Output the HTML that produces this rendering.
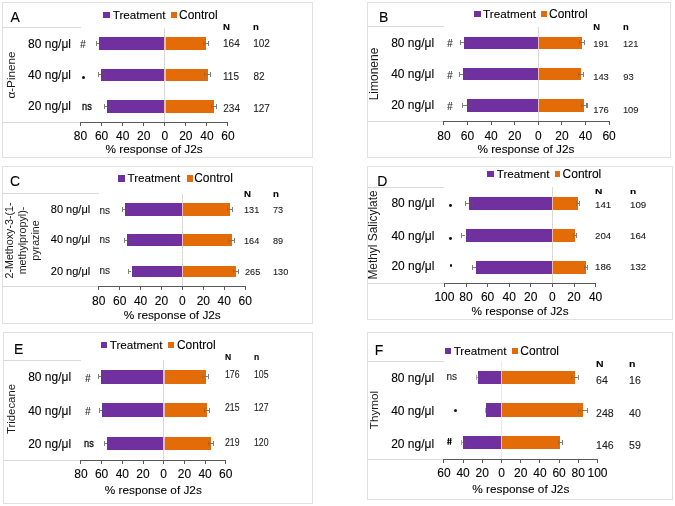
<!DOCTYPE html>
<html><head><meta charset="utf-8"><style>
html,body{margin:0;padding:0;background:#fff;}
body{width:675px;height:506px;position:relative;overflow:hidden;font-family:"Liberation Sans", sans-serif;}
#w{position:absolute;left:0;top:0;width:675px;height:506px;filter:blur(0.3px);}
#w>div{position:absolute;}
.r{position:absolute;white-space:nowrap;}
.t{white-space:nowrap;filter:grayscale(1);-webkit-text-stroke:0.1px currentColor;}
</style></head><body>
<div id="w">
<div style="left:2.00px;top:2.00px;width:311.00px;height:156.00px;border:1px solid #e0e0e0;box-sizing:border-box"></div>
<div class="t" style="left:10.60px;top:10.00px;font-size:14px;line-height:14px;color:#000;font-weight:normal;">A</div>
<div style="left:2.00px;top:27.20px;width:78.50px;height:1.00px;background:#d9d9d9"></div>
<div style="left:2.00px;top:121.70px;width:78.50px;height:1.00px;background:#d9d9d9"></div>
<div style="left:164.40px;top:27.70px;width:1.00px;height:94.50px;background:#d9d9d9"></div>
<div style="left:99.00px;top:37.20px;width:64.90px;height:12.40px;background:#7030a0"></div>
<div style="left:163.90px;top:37.20px;width:1.80px;height:12.40px;background:#e4bcb0"></div>
<div style="left:165.70px;top:37.20px;width:40.00px;height:12.40px;background:#e36c09"></div>
<div style="left:96.20px;top:42.90px;width:2.80px;height:1.00px;background:#7f7f7f"></div>
<div style="left:95.60px;top:40.90px;width:1.20px;height:5.00px;background:#7f7f7f"></div>
<div style="left:99.00px;top:42.90px;width:2.80px;height:1.00px;background:rgba(90,90,90,0.35)"></div>
<div style="left:101.30px;top:40.90px;width:1.00px;height:5.00px;background:rgba(90,90,90,0.35)"></div>
<div style="left:205.70px;top:42.90px;width:2.70px;height:1.00px;background:#7f7f7f"></div>
<div style="left:207.80px;top:40.90px;width:1.20px;height:5.00px;background:#7f7f7f"></div>
<div style="left:203.00px;top:42.90px;width:2.70px;height:1.00px;background:rgba(90,90,90,0.35)"></div>
<div style="left:202.50px;top:40.90px;width:1.00px;height:5.00px;background:rgba(90,90,90,0.35)"></div>
<div style="left:101.40px;top:68.50px;width:62.50px;height:12.80px;background:#7030a0"></div>
<div style="left:163.90px;top:68.50px;width:1.80px;height:12.80px;background:#e4bcb0"></div>
<div style="left:165.70px;top:68.50px;width:41.90px;height:12.80px;background:#e36c09"></div>
<div style="left:98.60px;top:74.40px;width:2.80px;height:1.00px;background:#7f7f7f"></div>
<div style="left:98.00px;top:72.40px;width:1.20px;height:5.00px;background:#7f7f7f"></div>
<div style="left:101.40px;top:74.40px;width:2.80px;height:1.00px;background:rgba(90,90,90,0.35)"></div>
<div style="left:103.70px;top:72.40px;width:1.00px;height:5.00px;background:rgba(90,90,90,0.35)"></div>
<div style="left:207.60px;top:74.40px;width:2.80px;height:1.00px;background:#7f7f7f"></div>
<div style="left:209.80px;top:72.40px;width:1.20px;height:5.00px;background:#7f7f7f"></div>
<div style="left:204.80px;top:74.40px;width:2.80px;height:1.00px;background:rgba(90,90,90,0.35)"></div>
<div style="left:204.30px;top:72.40px;width:1.00px;height:5.00px;background:rgba(90,90,90,0.35)"></div>
<div style="left:107.40px;top:100.20px;width:56.50px;height:12.40px;background:#7030a0"></div>
<div style="left:163.90px;top:100.20px;width:1.80px;height:12.40px;background:#e4bcb0"></div>
<div style="left:165.70px;top:100.20px;width:48.10px;height:12.40px;background:#e36c09"></div>
<div style="left:104.60px;top:105.90px;width:2.80px;height:1.00px;background:#7f7f7f"></div>
<div style="left:104.00px;top:103.90px;width:1.20px;height:5.00px;background:#7f7f7f"></div>
<div style="left:107.40px;top:105.90px;width:2.80px;height:1.00px;background:rgba(90,90,90,0.35)"></div>
<div style="left:109.70px;top:103.90px;width:1.00px;height:5.00px;background:rgba(90,90,90,0.35)"></div>
<div style="left:213.80px;top:105.90px;width:2.80px;height:1.00px;background:#7f7f7f"></div>
<div style="left:216.00px;top:103.90px;width:1.20px;height:5.00px;background:#7f7f7f"></div>
<div style="left:211.00px;top:105.90px;width:2.80px;height:1.00px;background:rgba(90,90,90,0.35)"></div>
<div style="left:210.50px;top:103.90px;width:1.00px;height:5.00px;background:rgba(90,90,90,0.35)"></div>
<div style="left:80.00px;top:121.70px;width:148.49px;height:1.00px;background:#595959"></div>
<div style="left:80.00px;top:122.20px;width:1.00px;height:3.50px;background:#595959"></div>
<div class="t" style="left:-119.50px;width:400px;text-align:center;top:130.00px;font-size:12px;line-height:12px;color:#000;font-weight:normal;">80</div>
<div style="left:101.07px;top:122.20px;width:1.00px;height:3.50px;background:#595959"></div>
<div class="t" style="left:-98.43px;width:400px;text-align:center;top:130.00px;font-size:12px;line-height:12px;color:#000;font-weight:normal;">60</div>
<div style="left:122.14px;top:122.20px;width:1.00px;height:3.50px;background:#595959"></div>
<div class="t" style="left:-77.36px;width:400px;text-align:center;top:130.00px;font-size:12px;line-height:12px;color:#000;font-weight:normal;">40</div>
<div style="left:143.21px;top:122.20px;width:1.00px;height:3.50px;background:#595959"></div>
<div class="t" style="left:-56.29px;width:400px;text-align:center;top:130.00px;font-size:12px;line-height:12px;color:#000;font-weight:normal;">20</div>
<div style="left:164.28px;top:122.20px;width:1.00px;height:3.50px;background:#595959"></div>
<div class="t" style="left:-35.22px;width:400px;text-align:center;top:130.00px;font-size:12px;line-height:12px;color:#000;font-weight:normal;">0</div>
<div style="left:185.35px;top:122.20px;width:1.00px;height:3.50px;background:#595959"></div>
<div class="t" style="left:-14.15px;width:400px;text-align:center;top:130.00px;font-size:12px;line-height:12px;color:#000;font-weight:normal;">20</div>
<div style="left:206.42px;top:122.20px;width:1.00px;height:3.50px;background:#595959"></div>
<div class="t" style="left:6.92px;width:400px;text-align:center;top:130.00px;font-size:12px;line-height:12px;color:#000;font-weight:normal;">40</div>
<div style="left:227.49px;top:122.20px;width:1.00px;height:3.50px;background:#595959"></div>
<div class="t" style="left:27.99px;width:400px;text-align:center;top:130.00px;font-size:12px;line-height:12px;color:#000;font-weight:normal;">60</div>
<div class="t" style="left:105.59px;top:144.10px;font-size:11.8px;line-height:11.8px;color:#000;font-weight:normal;">% response of J2s</div>
<div style="left:103.20px;top:11.80px;width:6.40px;height:6.10px;background:#7030a0"></div>
<div class="t" style="left:112.77px;top:8.65px;font-size:11.7px;line-height:11.7px;color:#000;font-weight:normal;">Treatment</div>
<div style="left:171.10px;top:11.80px;width:6.30px;height:6.10px;background:#e36c09"></div>
<div class="t" style="left:179.00px;top:9.00px;font-size:12px;line-height:12px;color:#000;font-weight:normal;">Control</div>
<div class="t" style="right:603.98px;text-align:right;top:38.00px;font-size:12px;line-height:12px;color:#000;font-weight:normal;">80 ng/μl</div>
<div class="t" style="right:603.98px;text-align:right;top:69.00px;font-size:12px;line-height:12px;color:#000;font-weight:normal;">40 ng/μl</div>
<div class="t" style="right:603.98px;text-align:right;top:100.00px;font-size:12px;line-height:12px;color:#000;font-weight:normal;">20 ng/μl</div>
<div class="t" style="left:80.00px;top:39.10px;font-size:11.8px;line-height:11.8px;color:#262626;font-weight:normal;font-style:italic;transform:scaleX(0.84);transform-origin:0 0;">#</div>
<div style="left:82.20px;top:76.10px;width:3.20px;height:3.20px;border-radius:50%;background:#111"></div>
<div class="t" style="left:81.90px;top:100.75px;font-size:10.5px;line-height:10.5px;color:#111;font-weight:normal;transform:scaleX(0.88);transform-origin:0 0;-webkit-text-stroke:0.35px #111;">ns</div>
<div class="t" style="left:223.18px;top:22.55px;font-size:8.9px;line-height:8.9px;color:#000;font-weight:bold;transform:scaleX(1.08);transform-origin:0 0;">N</div>
<div class="t" style="left:253.38px;top:22.55px;font-size:8.9px;line-height:8.9px;color:#000;font-weight:bold;transform:scaleX(1.08);transform-origin:0 0;">n</div>
<div class="t" style="left:223.05px;top:38.50px;font-size:10px;line-height:10px;color:#222;font-weight:normal;">164</div>
<div class="t" style="left:253.25px;top:38.50px;font-size:10px;line-height:10px;color:#222;font-weight:normal;">102</div>
<div class="t" style="left:223.05px;top:71.50px;font-size:10px;line-height:10px;color:#222;font-weight:normal;">115</div>
<div class="t" style="left:253.55px;top:71.50px;font-size:10px;line-height:10px;color:#222;font-weight:normal;">82</div>
<div class="t" style="left:223.30px;top:103.50px;font-size:10px;line-height:10px;color:#222;font-weight:normal;">234</div>
<div class="t" style="left:253.25px;top:103.50px;font-size:10px;line-height:10px;color:#222;font-weight:normal;">127</div>
<div style="left:367.00px;top:2.00px;width:304.00px;height:156.00px;border:1px solid #e0e0e0;box-sizing:border-box"></div>
<div class="t" style="left:378.88px;top:10.00px;font-size:14px;line-height:14px;color:#000;font-weight:normal;">B</div>
<div style="left:367.00px;top:26.30px;width:76.90px;height:1.00px;background:#d9d9d9"></div>
<div style="left:367.00px;top:121.40px;width:76.90px;height:1.00px;background:#d9d9d9"></div>
<div style="left:538.00px;top:26.80px;width:1.00px;height:95.10px;background:#d9d9d9"></div>
<div style="left:464.00px;top:36.75px;width:73.80px;height:12.00px;background:#7030a0"></div>
<div style="left:537.80px;top:36.75px;width:1.20px;height:12.00px;background:#e4bcb0"></div>
<div style="left:539.00px;top:36.75px;width:43.00px;height:12.00px;background:#e36c09"></div>
<div style="left:460.40px;top:42.25px;width:3.60px;height:1.00px;background:#7f7f7f"></div>
<div style="left:459.80px;top:40.25px;width:1.20px;height:5.00px;background:#7f7f7f"></div>
<div style="left:464.00px;top:42.25px;width:3.60px;height:1.00px;background:rgba(90,90,90,0.35)"></div>
<div style="left:467.10px;top:40.25px;width:1.00px;height:5.00px;background:rgba(90,90,90,0.35)"></div>
<div style="left:582.00px;top:42.25px;width:2.80px;height:1.00px;background:#7f7f7f"></div>
<div style="left:584.20px;top:40.25px;width:1.20px;height:5.00px;background:#7f7f7f"></div>
<div style="left:579.20px;top:42.25px;width:2.80px;height:1.00px;background:rgba(90,90,90,0.35)"></div>
<div style="left:578.70px;top:40.25px;width:1.00px;height:5.00px;background:rgba(90,90,90,0.35)"></div>
<div style="left:463.10px;top:68.15px;width:74.70px;height:12.00px;background:#7030a0"></div>
<div style="left:537.80px;top:68.15px;width:1.20px;height:12.00px;background:#e4bcb0"></div>
<div style="left:539.00px;top:68.15px;width:41.90px;height:12.00px;background:#e36c09"></div>
<div style="left:459.60px;top:73.65px;width:3.50px;height:1.00px;background:#7f7f7f"></div>
<div style="left:459.00px;top:71.65px;width:1.20px;height:5.00px;background:#7f7f7f"></div>
<div style="left:463.10px;top:73.65px;width:3.50px;height:1.00px;background:rgba(90,90,90,0.35)"></div>
<div style="left:466.10px;top:71.65px;width:1.00px;height:5.00px;background:rgba(90,90,90,0.35)"></div>
<div style="left:580.90px;top:73.65px;width:2.80px;height:1.00px;background:#7f7f7f"></div>
<div style="left:583.10px;top:71.65px;width:1.20px;height:5.00px;background:#7f7f7f"></div>
<div style="left:578.10px;top:73.65px;width:2.80px;height:1.00px;background:rgba(90,90,90,0.35)"></div>
<div style="left:577.60px;top:71.65px;width:1.00px;height:5.00px;background:rgba(90,90,90,0.35)"></div>
<div style="left:466.70px;top:99.35px;width:71.10px;height:12.40px;background:#7030a0"></div>
<div style="left:537.80px;top:99.35px;width:1.20px;height:12.40px;background:#e4bcb0"></div>
<div style="left:539.00px;top:99.35px;width:45.20px;height:12.40px;background:#e36c09"></div>
<div style="left:462.80px;top:105.05px;width:3.90px;height:1.00px;background:#7f7f7f"></div>
<div style="left:462.20px;top:103.05px;width:1.20px;height:5.00px;background:#7f7f7f"></div>
<div style="left:466.70px;top:105.05px;width:3.90px;height:1.00px;background:rgba(90,90,90,0.35)"></div>
<div style="left:470.10px;top:103.05px;width:1.00px;height:5.00px;background:rgba(90,90,90,0.35)"></div>
<div style="left:584.20px;top:105.05px;width:2.80px;height:1.00px;background:#7f7f7f"></div>
<div style="left:586.40px;top:103.05px;width:1.20px;height:5.00px;background:#7f7f7f"></div>
<div style="left:581.40px;top:105.05px;width:2.80px;height:1.00px;background:rgba(90,90,90,0.35)"></div>
<div style="left:580.90px;top:103.05px;width:1.00px;height:5.00px;background:rgba(90,90,90,0.35)"></div>
<div style="left:443.40px;top:121.40px;width:166.20px;height:1.00px;background:#595959"></div>
<div style="left:443.40px;top:121.90px;width:1.00px;height:3.50px;background:#595959"></div>
<div class="t" style="left:243.90px;width:400px;text-align:center;top:130.00px;font-size:12px;line-height:12px;color:#000;font-weight:normal;">80</div>
<div style="left:467.00px;top:121.90px;width:1.00px;height:3.50px;background:#595959"></div>
<div class="t" style="left:267.50px;width:400px;text-align:center;top:130.00px;font-size:12px;line-height:12px;color:#000;font-weight:normal;">60</div>
<div style="left:490.60px;top:121.90px;width:1.00px;height:3.50px;background:#595959"></div>
<div class="t" style="left:291.10px;width:400px;text-align:center;top:130.00px;font-size:12px;line-height:12px;color:#000;font-weight:normal;">40</div>
<div style="left:514.20px;top:121.90px;width:1.00px;height:3.50px;background:#595959"></div>
<div class="t" style="left:314.70px;width:400px;text-align:center;top:130.00px;font-size:12px;line-height:12px;color:#000;font-weight:normal;">20</div>
<div style="left:537.80px;top:121.90px;width:1.00px;height:3.50px;background:#595959"></div>
<div class="t" style="left:338.30px;width:400px;text-align:center;top:130.00px;font-size:12px;line-height:12px;color:#000;font-weight:normal;">0</div>
<div style="left:561.40px;top:121.90px;width:1.00px;height:3.50px;background:#595959"></div>
<div class="t" style="left:361.90px;width:400px;text-align:center;top:130.00px;font-size:12px;line-height:12px;color:#000;font-weight:normal;">20</div>
<div style="left:585.00px;top:121.90px;width:1.00px;height:3.50px;background:#595959"></div>
<div class="t" style="left:385.50px;width:400px;text-align:center;top:130.00px;font-size:12px;line-height:12px;color:#000;font-weight:normal;">40</div>
<div style="left:608.60px;top:121.90px;width:1.00px;height:3.50px;background:#595959"></div>
<div class="t" style="left:409.10px;width:400px;text-align:center;top:130.00px;font-size:12px;line-height:12px;color:#000;font-weight:normal;">60</div>
<div class="t" style="left:477.39px;top:144.10px;font-size:11.8px;line-height:11.8px;color:#000;font-weight:normal;">% response of J2s</div>
<div style="left:474.40px;top:11.00px;width:6.30px;height:6.00px;background:#7030a0"></div>
<div class="t" style="left:483.07px;top:7.65px;font-size:11.7px;line-height:11.7px;color:#000;font-weight:normal;">Treatment</div>
<div style="left:541.10px;top:11.00px;width:5.70px;height:6.00px;background:#e36c09"></div>
<div class="t" style="left:549.00px;top:8.00px;font-size:12px;line-height:12px;color:#000;font-weight:normal;">Control</div>
<div class="t" style="right:240.88px;text-align:right;top:37.00px;font-size:12px;line-height:12px;color:#000;font-weight:normal;">80 ng/μl</div>
<div class="t" style="right:240.88px;text-align:right;top:68.00px;font-size:12px;line-height:12px;color:#000;font-weight:normal;">40 ng/μl</div>
<div class="t" style="right:240.88px;text-align:right;top:99.00px;font-size:12px;line-height:12px;color:#000;font-weight:normal;">20 ng/μl</div>
<div class="t" style="left:446.60px;top:38.10px;font-size:11.8px;line-height:11.8px;color:#262626;font-weight:normal;font-style:italic;transform:scaleX(0.84);transform-origin:0 0;">#</div>
<div class="t" style="left:446.60px;top:70.10px;font-size:11.8px;line-height:11.8px;color:#262626;font-weight:normal;font-style:italic;transform:scaleX(0.84);transform-origin:0 0;">#</div>
<div class="t" style="left:446.60px;top:101.10px;font-size:11.8px;line-height:11.8px;color:#262626;font-weight:normal;font-style:italic;transform:scaleX(0.84);transform-origin:0 0;">#</div>
<div class="t" style="left:593.29px;top:21.80px;font-size:9.4px;line-height:9.4px;color:#000;font-weight:bold;">N</div>
<div class="t" style="left:622.99px;top:21.80px;font-size:9.4px;line-height:9.4px;color:#000;font-weight:bold;">n</div>
<div class="t" style="left:593.19px;top:38.80px;font-size:9.4px;line-height:9.4px;color:#222;font-weight:normal;">191</div>
<div class="t" style="left:622.89px;top:38.80px;font-size:9.4px;line-height:9.4px;color:#222;font-weight:normal;">121</div>
<div class="t" style="left:593.19px;top:71.80px;font-size:9.4px;line-height:9.4px;color:#222;font-weight:normal;">143</div>
<div class="t" style="left:623.18px;top:71.80px;font-size:9.4px;line-height:9.4px;color:#222;font-weight:normal;">93</div>
<div class="t" style="left:593.19px;top:104.80px;font-size:9.4px;line-height:9.4px;color:#222;font-weight:normal;">176</div>
<div class="t" style="left:622.89px;top:104.80px;font-size:9.4px;line-height:9.4px;color:#222;font-weight:normal;">109</div>
<div style="left:2.00px;top:166.00px;width:311.00px;height:158.00px;border:1px solid #e0e0e0;box-sizing:border-box"></div>
<div class="t" style="left:10.10px;top:174.00px;font-size:14px;line-height:14px;color:#000;font-weight:normal;">C</div>
<div style="left:2.00px;top:193.40px;width:96.70px;height:1.00px;background:#d9d9d9"></div>
<div style="left:2.00px;top:286.30px;width:96.70px;height:1.00px;background:#d9d9d9"></div>
<div style="left:181.90px;top:193.90px;width:1.00px;height:92.90px;background:#d9d9d9"></div>
<div style="left:125.10px;top:203.35px;width:56.80px;height:12.30px;background:#7030a0"></div>
<div style="left:181.90px;top:203.35px;width:1.40px;height:12.30px;background:#e4bcb0"></div>
<div style="left:183.30px;top:203.35px;width:46.80px;height:12.30px;background:#e36c09"></div>
<div style="left:122.30px;top:209.00px;width:2.80px;height:1.00px;background:#7f7f7f"></div>
<div style="left:121.70px;top:207.00px;width:1.20px;height:5.00px;background:#7f7f7f"></div>
<div style="left:125.10px;top:209.00px;width:2.80px;height:1.00px;background:rgba(90,90,90,0.35)"></div>
<div style="left:127.40px;top:207.00px;width:1.00px;height:5.00px;background:rgba(90,90,90,0.35)"></div>
<div style="left:230.10px;top:209.00px;width:2.80px;height:1.00px;background:#7f7f7f"></div>
<div style="left:232.30px;top:207.00px;width:1.20px;height:5.00px;background:#7f7f7f"></div>
<div style="left:227.30px;top:209.00px;width:2.80px;height:1.00px;background:rgba(90,90,90,0.35)"></div>
<div style="left:226.80px;top:207.00px;width:1.00px;height:5.00px;background:rgba(90,90,90,0.35)"></div>
<div style="left:127.30px;top:234.20px;width:54.60px;height:11.80px;background:#7030a0"></div>
<div style="left:181.90px;top:234.20px;width:1.40px;height:11.80px;background:#e4bcb0"></div>
<div style="left:183.30px;top:234.20px;width:48.40px;height:11.80px;background:#e36c09"></div>
<div style="left:124.50px;top:239.60px;width:2.80px;height:1.00px;background:#7f7f7f"></div>
<div style="left:123.90px;top:237.60px;width:1.20px;height:5.00px;background:#7f7f7f"></div>
<div style="left:127.30px;top:239.60px;width:2.80px;height:1.00px;background:rgba(90,90,90,0.35)"></div>
<div style="left:129.60px;top:237.60px;width:1.00px;height:5.00px;background:rgba(90,90,90,0.35)"></div>
<div style="left:231.70px;top:239.60px;width:2.80px;height:1.00px;background:#7f7f7f"></div>
<div style="left:233.90px;top:237.60px;width:1.20px;height:5.00px;background:#7f7f7f"></div>
<div style="left:228.90px;top:239.60px;width:2.80px;height:1.00px;background:rgba(90,90,90,0.35)"></div>
<div style="left:228.40px;top:237.60px;width:1.00px;height:5.00px;background:rgba(90,90,90,0.35)"></div>
<div style="left:131.50px;top:265.50px;width:50.40px;height:11.80px;background:#7030a0"></div>
<div style="left:181.90px;top:265.50px;width:1.40px;height:11.80px;background:#e4bcb0"></div>
<div style="left:183.30px;top:265.50px;width:52.70px;height:11.80px;background:#e36c09"></div>
<div style="left:128.70px;top:270.90px;width:2.80px;height:1.00px;background:#7f7f7f"></div>
<div style="left:128.10px;top:268.90px;width:1.20px;height:5.00px;background:#7f7f7f"></div>
<div style="left:131.50px;top:270.90px;width:2.80px;height:1.00px;background:rgba(90,90,90,0.35)"></div>
<div style="left:133.80px;top:268.90px;width:1.00px;height:5.00px;background:rgba(90,90,90,0.35)"></div>
<div style="left:236.00px;top:270.90px;width:2.80px;height:1.00px;background:#7f7f7f"></div>
<div style="left:238.20px;top:268.90px;width:1.20px;height:5.00px;background:#7f7f7f"></div>
<div style="left:233.20px;top:270.90px;width:2.80px;height:1.00px;background:rgba(90,90,90,0.35)"></div>
<div style="left:232.70px;top:268.90px;width:1.00px;height:5.00px;background:rgba(90,90,90,0.35)"></div>
<div style="left:98.20px;top:286.30px;width:147.51px;height:1.00px;background:#595959"></div>
<div style="left:98.20px;top:286.80px;width:1.00px;height:3.50px;background:#595959"></div>
<div class="t" style="left:-101.30px;width:400px;text-align:center;top:295.00px;font-size:12px;line-height:12px;color:#000;font-weight:normal;">80</div>
<div style="left:119.13px;top:286.80px;width:1.00px;height:3.50px;background:#595959"></div>
<div class="t" style="left:-80.37px;width:400px;text-align:center;top:295.00px;font-size:12px;line-height:12px;color:#000;font-weight:normal;">60</div>
<div style="left:140.06px;top:286.80px;width:1.00px;height:3.50px;background:#595959"></div>
<div class="t" style="left:-59.44px;width:400px;text-align:center;top:295.00px;font-size:12px;line-height:12px;color:#000;font-weight:normal;">40</div>
<div style="left:160.99px;top:286.80px;width:1.00px;height:3.50px;background:#595959"></div>
<div class="t" style="left:-38.51px;width:400px;text-align:center;top:295.00px;font-size:12px;line-height:12px;color:#000;font-weight:normal;">20</div>
<div style="left:181.92px;top:286.80px;width:1.00px;height:3.50px;background:#595959"></div>
<div class="t" style="left:-17.58px;width:400px;text-align:center;top:295.00px;font-size:12px;line-height:12px;color:#000;font-weight:normal;">0</div>
<div style="left:202.85px;top:286.80px;width:1.00px;height:3.50px;background:#595959"></div>
<div class="t" style="left:3.35px;width:400px;text-align:center;top:295.00px;font-size:12px;line-height:12px;color:#000;font-weight:normal;">20</div>
<div style="left:223.78px;top:286.80px;width:1.00px;height:3.50px;background:#595959"></div>
<div class="t" style="left:24.28px;width:400px;text-align:center;top:295.00px;font-size:12px;line-height:12px;color:#000;font-weight:normal;">40</div>
<div style="left:244.71px;top:286.80px;width:1.00px;height:3.50px;background:#595959"></div>
<div class="t" style="left:45.21px;width:400px;text-align:center;top:295.00px;font-size:12px;line-height:12px;color:#000;font-weight:normal;">60</div>
<div class="t" style="left:123.69px;top:310.10px;font-size:11.8px;line-height:11.8px;color:#000;font-weight:normal;">% response of J2s</div>
<div style="left:118.40px;top:175.40px;width:6.30px;height:6.30px;background:#7030a0"></div>
<div class="t" style="left:127.47px;top:171.65px;font-size:11.7px;line-height:11.7px;color:#000;font-weight:normal;">Treatment</div>
<div style="left:186.80px;top:175.40px;width:6.00px;height:6.30px;background:#e36c09"></div>
<div class="t" style="left:194.20px;top:172.00px;font-size:12px;line-height:12px;color:#000;font-weight:normal;">Control</div>
<div class="t" style="right:584.84px;text-align:right;top:203.50px;font-size:11px;line-height:11px;color:#000;font-weight:normal;">80 ng/μl</div>
<div class="t" style="right:584.84px;text-align:right;top:233.50px;font-size:11px;line-height:11px;color:#000;font-weight:normal;">40 ng/μl</div>
<div class="t" style="right:584.84px;text-align:right;top:265.50px;font-size:11px;line-height:11px;color:#000;font-weight:normal;">20 ng/μl</div>
<div class="t" style="left:99.45px;top:205.50px;font-size:10px;line-height:10px;color:#222;font-weight:normal;">ns</div>
<div class="t" style="left:99.55px;top:234.50px;font-size:10px;line-height:10px;color:#222;font-weight:normal;">ns</div>
<div class="t" style="left:99.55px;top:265.50px;font-size:10px;line-height:10px;color:#222;font-weight:normal;">ns</div>
<div class="t" style="left:244.37px;top:189.60px;font-size:8.8px;line-height:8.8px;color:#000;font-weight:bold;transform:scaleX(1.1);transform-origin:0 0;">N</div>
<div class="t" style="left:272.77px;top:189.60px;font-size:8.8px;line-height:8.8px;color:#000;font-weight:bold;transform:scaleX(1.1);transform-origin:0 0;">n</div>
<div class="t" style="left:244.32px;top:206.35px;font-size:9.3px;line-height:9.3px;color:#222;font-weight:normal;transform:scaleX(0.98);transform-origin:0 0;">131</div>
<div class="t" style="left:272.94px;top:206.35px;font-size:9.3px;line-height:9.3px;color:#222;font-weight:normal;transform:scaleX(0.98);transform-origin:0 0;">73</div>
<div class="t" style="left:244.32px;top:237.35px;font-size:9.3px;line-height:9.3px;color:#222;font-weight:normal;transform:scaleX(0.98);transform-origin:0 0;">164</div>
<div class="t" style="left:272.99px;top:237.35px;font-size:9.3px;line-height:9.3px;color:#222;font-weight:normal;transform:scaleX(0.98);transform-origin:0 0;">89</div>
<div class="t" style="left:244.54px;top:268.35px;font-size:9.3px;line-height:9.3px;color:#222;font-weight:normal;transform:scaleX(0.98);transform-origin:0 0;">265</div>
<div class="t" style="left:272.72px;top:268.35px;font-size:9.3px;line-height:9.3px;color:#222;font-weight:normal;transform:scaleX(0.98);transform-origin:0 0;">130</div>
<div style="left:367.00px;top:166.00px;width:306.00px;height:154.00px;border:1px solid #e0e0e0;box-sizing:border-box"></div>
<div class="t" style="left:377.28px;top:174.00px;font-size:14px;line-height:14px;color:#000;font-weight:normal;">D</div>
<div style="left:367.00px;top:186.70px;width:77.40px;height:1.00px;background:#d9d9d9"></div>
<div style="left:367.00px;top:283.20px;width:77.40px;height:1.00px;background:#d9d9d9"></div>
<div style="left:552.10px;top:187.20px;width:1.00px;height:96.50px;background:#d9d9d9"></div>
<div style="left:469.00px;top:196.70px;width:82.80px;height:13.00px;background:#7030a0"></div>
<div style="left:551.80px;top:196.70px;width:1.30px;height:13.00px;background:#e4bcb0"></div>
<div style="left:553.10px;top:196.70px;width:25.00px;height:13.00px;background:#e36c09"></div>
<div style="left:465.30px;top:202.70px;width:3.70px;height:1.00px;background:#7f7f7f"></div>
<div style="left:464.70px;top:200.70px;width:1.20px;height:5.00px;background:#7f7f7f"></div>
<div style="left:469.00px;top:202.70px;width:3.70px;height:1.00px;background:rgba(90,90,90,0.35)"></div>
<div style="left:472.20px;top:200.70px;width:1.00px;height:5.00px;background:rgba(90,90,90,0.35)"></div>
<div style="left:578.10px;top:202.70px;width:1.60px;height:1.00px;background:#7f7f7f"></div>
<div style="left:579.10px;top:200.70px;width:1.20px;height:5.00px;background:#7f7f7f"></div>
<div style="left:576.50px;top:202.70px;width:1.60px;height:1.00px;background:rgba(90,90,90,0.35)"></div>
<div style="left:576.00px;top:200.70px;width:1.00px;height:5.00px;background:rgba(90,90,90,0.35)"></div>
<div style="left:465.50px;top:228.70px;width:86.30px;height:13.00px;background:#7030a0"></div>
<div style="left:551.80px;top:228.70px;width:1.30px;height:13.00px;background:#e4bcb0"></div>
<div style="left:553.10px;top:228.70px;width:21.70px;height:13.00px;background:#e36c09"></div>
<div style="left:461.70px;top:234.70px;width:3.80px;height:1.00px;background:#7f7f7f"></div>
<div style="left:461.10px;top:232.70px;width:1.20px;height:5.00px;background:#7f7f7f"></div>
<div style="left:465.50px;top:234.70px;width:3.80px;height:1.00px;background:rgba(90,90,90,0.35)"></div>
<div style="left:468.80px;top:232.70px;width:1.00px;height:5.00px;background:rgba(90,90,90,0.35)"></div>
<div style="left:574.80px;top:234.70px;width:1.60px;height:1.00px;background:#7f7f7f"></div>
<div style="left:575.80px;top:232.70px;width:1.20px;height:5.00px;background:#7f7f7f"></div>
<div style="left:573.20px;top:234.70px;width:1.60px;height:1.00px;background:rgba(90,90,90,0.35)"></div>
<div style="left:572.70px;top:232.70px;width:1.00px;height:5.00px;background:rgba(90,90,90,0.35)"></div>
<div style="left:476.10px;top:260.70px;width:75.70px;height:13.00px;background:#7030a0"></div>
<div style="left:551.80px;top:260.70px;width:1.30px;height:13.00px;background:#e4bcb0"></div>
<div style="left:553.10px;top:260.70px;width:32.70px;height:13.00px;background:#e36c09"></div>
<div style="left:472.60px;top:266.70px;width:3.50px;height:1.00px;background:#7f7f7f"></div>
<div style="left:472.00px;top:264.70px;width:1.20px;height:5.00px;background:#7f7f7f"></div>
<div style="left:476.10px;top:266.70px;width:3.50px;height:1.00px;background:rgba(90,90,90,0.35)"></div>
<div style="left:479.10px;top:264.70px;width:1.00px;height:5.00px;background:rgba(90,90,90,0.35)"></div>
<div style="left:585.80px;top:266.70px;width:1.80px;height:1.00px;background:#7f7f7f"></div>
<div style="left:587.00px;top:264.70px;width:1.20px;height:5.00px;background:#7f7f7f"></div>
<div style="left:584.00px;top:266.70px;width:1.80px;height:1.00px;background:rgba(90,90,90,0.35)"></div>
<div style="left:583.50px;top:264.70px;width:1.00px;height:5.00px;background:rgba(90,90,90,0.35)"></div>
<div style="left:443.90px;top:283.20px;width:152.20px;height:1.00px;background:#595959"></div>
<div style="left:443.90px;top:283.70px;width:1.00px;height:3.50px;background:#595959"></div>
<div class="t" style="left:244.40px;width:400px;text-align:center;top:291.00px;font-size:12px;line-height:12px;color:#000;font-weight:normal;">100</div>
<div style="left:465.50px;top:283.70px;width:1.00px;height:3.50px;background:#595959"></div>
<div class="t" style="left:266.00px;width:400px;text-align:center;top:291.00px;font-size:12px;line-height:12px;color:#000;font-weight:normal;">80</div>
<div style="left:487.10px;top:283.70px;width:1.00px;height:3.50px;background:#595959"></div>
<div class="t" style="left:287.60px;width:400px;text-align:center;top:291.00px;font-size:12px;line-height:12px;color:#000;font-weight:normal;">60</div>
<div style="left:508.70px;top:283.70px;width:1.00px;height:3.50px;background:#595959"></div>
<div class="t" style="left:309.20px;width:400px;text-align:center;top:291.00px;font-size:12px;line-height:12px;color:#000;font-weight:normal;">40</div>
<div style="left:530.30px;top:283.70px;width:1.00px;height:3.50px;background:#595959"></div>
<div class="t" style="left:330.80px;width:400px;text-align:center;top:291.00px;font-size:12px;line-height:12px;color:#000;font-weight:normal;">20</div>
<div style="left:551.90px;top:283.70px;width:1.00px;height:3.50px;background:#595959"></div>
<div class="t" style="left:352.40px;width:400px;text-align:center;top:291.00px;font-size:12px;line-height:12px;color:#000;font-weight:normal;">0</div>
<div style="left:573.50px;top:283.70px;width:1.00px;height:3.50px;background:#595959"></div>
<div class="t" style="left:374.00px;width:400px;text-align:center;top:291.00px;font-size:12px;line-height:12px;color:#000;font-weight:normal;">20</div>
<div style="left:595.10px;top:283.70px;width:1.00px;height:3.50px;background:#595959"></div>
<div class="t" style="left:395.60px;width:400px;text-align:center;top:291.00px;font-size:12px;line-height:12px;color:#000;font-weight:normal;">40</div>
<div class="t" style="left:471.49px;top:306.10px;font-size:11.8px;line-height:11.8px;color:#000;font-weight:normal;">% response of J2s</div>
<div style="left:487.30px;top:170.70px;width:6.60px;height:6.20px;background:#7030a0"></div>
<div class="t" style="left:496.77px;top:167.65px;font-size:11.7px;line-height:11.7px;color:#000;font-weight:normal;">Treatment</div>
<div style="left:554.80px;top:170.70px;width:5.70px;height:6.20px;background:#e36c09"></div>
<div class="t" style="left:562.60px;top:168.00px;font-size:12px;line-height:12px;color:#000;font-weight:normal;">Control</div>
<div class="t" style="right:240.68px;text-align:right;top:197.00px;font-size:12px;line-height:12px;color:#000;font-weight:normal;">80 ng/μl</div>
<div class="t" style="right:240.68px;text-align:right;top:230.00px;font-size:12px;line-height:12px;color:#000;font-weight:normal;">40 ng/μl</div>
<div class="t" style="right:240.68px;text-align:right;top:260.00px;font-size:12px;line-height:12px;color:#000;font-weight:normal;">20 ng/μl</div>
<div style="left:448.65px;top:203.85px;width:2.90px;height:2.90px;border-radius:50%;background:#111"></div>
<div style="left:448.65px;top:236.95px;width:2.90px;height:2.90px;border-radius:50%;background:#111"></div>
<div style="left:449.60px;top:264.00px;width:2.60px;height:2.60px;border-radius:50%;background:#111"></div>
<div class="t" style="left:594.94px;top:187.60px;font-size:7.8px;line-height:7.8px;color:#000;font-weight:bold;transform:scaleX(1.3);transform-origin:0 0;">N</div>
<div class="t" style="left:630.14px;top:187.60px;font-size:7.8px;line-height:7.8px;color:#000;font-weight:bold;transform:scaleX(1.3);transform-origin:0 0;">n</div>
<div class="t" style="left:594.87px;top:200.70px;font-size:8.6px;line-height:8.6px;color:#222;font-weight:normal;transform:scaleX(1.13);transform-origin:0 0;">141</div>
<div class="t" style="left:630.07px;top:200.70px;font-size:8.6px;line-height:8.6px;color:#222;font-weight:normal;transform:scaleX(1.13);transform-origin:0 0;">109</div>
<div class="t" style="left:595.11px;top:231.70px;font-size:8.6px;line-height:8.6px;color:#222;font-weight:normal;transform:scaleX(1.13);transform-origin:0 0;">204</div>
<div class="t" style="left:630.07px;top:231.70px;font-size:8.6px;line-height:8.6px;color:#222;font-weight:normal;transform:scaleX(1.13);transform-origin:0 0;">164</div>
<div class="t" style="left:594.87px;top:262.70px;font-size:8.6px;line-height:8.6px;color:#222;font-weight:normal;transform:scaleX(1.13);transform-origin:0 0;">186</div>
<div class="t" style="left:630.07px;top:262.70px;font-size:8.6px;line-height:8.6px;color:#222;font-weight:normal;transform:scaleX(1.13);transform-origin:0 0;">132</div>
<div style="left:3.00px;top:332.00px;width:310.00px;height:172.00px;border:1px solid #e0e0e0;box-sizing:border-box"></div>
<div class="t" style="left:13.98px;top:342.00px;font-size:14px;line-height:14px;color:#000;font-weight:normal;">E</div>
<div style="left:3.00px;top:359.60px;width:77.90px;height:1.00px;background:#d9d9d9"></div>
<div style="left:3.00px;top:460.20px;width:77.90px;height:1.00px;background:#d9d9d9"></div>
<div style="left:163.00px;top:360.10px;width:1.00px;height:100.60px;background:#d9d9d9"></div>
<div style="left:101.40px;top:369.70px;width:61.40px;height:14.00px;background:#7030a0"></div>
<div style="left:162.80px;top:369.70px;width:1.90px;height:14.00px;background:#e4bcb0"></div>
<div style="left:164.70px;top:369.70px;width:41.00px;height:14.00px;background:#e36c09"></div>
<div style="left:98.60px;top:376.20px;width:2.80px;height:1.00px;background:#7f7f7f"></div>
<div style="left:98.00px;top:374.20px;width:1.20px;height:5.00px;background:#7f7f7f"></div>
<div style="left:101.40px;top:376.20px;width:2.80px;height:1.00px;background:rgba(90,90,90,0.35)"></div>
<div style="left:103.70px;top:374.20px;width:1.00px;height:5.00px;background:rgba(90,90,90,0.35)"></div>
<div style="left:205.70px;top:376.20px;width:2.80px;height:1.00px;background:#7f7f7f"></div>
<div style="left:207.90px;top:374.20px;width:1.20px;height:5.00px;background:#7f7f7f"></div>
<div style="left:202.90px;top:376.20px;width:2.80px;height:1.00px;background:rgba(90,90,90,0.35)"></div>
<div style="left:202.40px;top:374.20px;width:1.00px;height:5.00px;background:rgba(90,90,90,0.35)"></div>
<div style="left:102.40px;top:403.20px;width:60.40px;height:13.80px;background:#7030a0"></div>
<div style="left:162.80px;top:403.20px;width:1.90px;height:13.80px;background:#e4bcb0"></div>
<div style="left:164.70px;top:403.20px;width:42.30px;height:13.80px;background:#e36c09"></div>
<div style="left:99.60px;top:409.60px;width:2.80px;height:1.00px;background:#7f7f7f"></div>
<div style="left:99.00px;top:407.60px;width:1.20px;height:5.00px;background:#7f7f7f"></div>
<div style="left:102.40px;top:409.60px;width:2.80px;height:1.00px;background:rgba(90,90,90,0.35)"></div>
<div style="left:104.70px;top:407.60px;width:1.00px;height:5.00px;background:rgba(90,90,90,0.35)"></div>
<div style="left:207.00px;top:409.60px;width:2.80px;height:1.00px;background:#7f7f7f"></div>
<div style="left:209.20px;top:407.60px;width:1.20px;height:5.00px;background:#7f7f7f"></div>
<div style="left:204.20px;top:409.60px;width:2.80px;height:1.00px;background:rgba(90,90,90,0.35)"></div>
<div style="left:203.70px;top:407.60px;width:1.00px;height:5.00px;background:rgba(90,90,90,0.35)"></div>
<div style="left:106.90px;top:436.50px;width:55.90px;height:13.80px;background:#7030a0"></div>
<div style="left:162.80px;top:436.50px;width:1.90px;height:13.80px;background:#e4bcb0"></div>
<div style="left:164.70px;top:436.50px;width:46.20px;height:13.80px;background:#e36c09"></div>
<div style="left:104.10px;top:442.90px;width:2.80px;height:1.00px;background:#7f7f7f"></div>
<div style="left:103.50px;top:440.90px;width:1.20px;height:5.00px;background:#7f7f7f"></div>
<div style="left:106.90px;top:442.90px;width:2.80px;height:1.00px;background:rgba(90,90,90,0.35)"></div>
<div style="left:109.20px;top:440.90px;width:1.00px;height:5.00px;background:rgba(90,90,90,0.35)"></div>
<div style="left:210.90px;top:442.90px;width:2.80px;height:1.00px;background:#7f7f7f"></div>
<div style="left:213.10px;top:440.90px;width:1.20px;height:5.00px;background:#7f7f7f"></div>
<div style="left:208.10px;top:442.90px;width:2.80px;height:1.00px;background:rgba(90,90,90,0.35)"></div>
<div style="left:207.60px;top:440.90px;width:1.00px;height:5.00px;background:rgba(90,90,90,0.35)"></div>
<div style="left:80.40px;top:460.20px;width:145.90px;height:1.00px;background:#595959"></div>
<div style="left:80.40px;top:460.70px;width:1.00px;height:3.50px;background:#595959"></div>
<div class="t" style="left:-119.10px;width:400px;text-align:center;top:468.00px;font-size:12px;line-height:12px;color:#000;font-weight:normal;">80</div>
<div style="left:101.10px;top:460.70px;width:1.00px;height:3.50px;background:#595959"></div>
<div class="t" style="left:-98.40px;width:400px;text-align:center;top:468.00px;font-size:12px;line-height:12px;color:#000;font-weight:normal;">60</div>
<div style="left:121.80px;top:460.70px;width:1.00px;height:3.50px;background:#595959"></div>
<div class="t" style="left:-77.70px;width:400px;text-align:center;top:468.00px;font-size:12px;line-height:12px;color:#000;font-weight:normal;">40</div>
<div style="left:142.50px;top:460.70px;width:1.00px;height:3.50px;background:#595959"></div>
<div class="t" style="left:-57.00px;width:400px;text-align:center;top:468.00px;font-size:12px;line-height:12px;color:#000;font-weight:normal;">20</div>
<div style="left:163.20px;top:460.70px;width:1.00px;height:3.50px;background:#595959"></div>
<div class="t" style="left:-36.30px;width:400px;text-align:center;top:468.00px;font-size:12px;line-height:12px;color:#000;font-weight:normal;">0</div>
<div style="left:183.90px;top:460.70px;width:1.00px;height:3.50px;background:#595959"></div>
<div class="t" style="left:-15.60px;width:400px;text-align:center;top:468.00px;font-size:12px;line-height:12px;color:#000;font-weight:normal;">20</div>
<div style="left:204.60px;top:460.70px;width:1.00px;height:3.50px;background:#595959"></div>
<div class="t" style="left:5.10px;width:400px;text-align:center;top:468.00px;font-size:12px;line-height:12px;color:#000;font-weight:normal;">40</div>
<div style="left:225.30px;top:460.70px;width:1.00px;height:3.50px;background:#595959"></div>
<div class="t" style="left:25.80px;width:400px;text-align:center;top:468.00px;font-size:12px;line-height:12px;color:#000;font-weight:normal;">60</div>
<div class="t" style="left:104.79px;top:485.10px;font-size:11.8px;line-height:11.8px;color:#000;font-weight:normal;">% response of J2s</div>
<div style="left:100.50px;top:341.70px;width:6.30px;height:6.20px;background:#7030a0"></div>
<div class="t" style="left:109.77px;top:338.65px;font-size:11.7px;line-height:11.7px;color:#000;font-weight:normal;">Treatment</div>
<div style="left:168.20px;top:341.70px;width:6.20px;height:6.20px;background:#e36c09"></div>
<div class="t" style="left:176.90px;top:339.00px;font-size:12px;line-height:12px;color:#000;font-weight:normal;">Control</div>
<div class="t" style="right:603.88px;text-align:right;top:371.00px;font-size:12px;line-height:12px;color:#000;font-weight:normal;">80 ng/μl</div>
<div class="t" style="right:603.88px;text-align:right;top:405.00px;font-size:12px;line-height:12px;color:#000;font-weight:normal;">40 ng/μl</div>
<div class="t" style="right:603.88px;text-align:right;top:438.00px;font-size:12px;line-height:12px;color:#000;font-weight:normal;">20 ng/μl</div>
<div class="t" style="left:84.80px;top:373.10px;font-size:11.8px;line-height:11.8px;color:#262626;font-weight:normal;font-style:italic;transform:scaleX(0.84);transform-origin:0 0;">#</div>
<div class="t" style="left:84.80px;top:406.10px;font-size:11.8px;line-height:11.8px;color:#262626;font-weight:normal;font-style:italic;transform:scaleX(0.84);transform-origin:0 0;">#</div>
<div class="t" style="left:84.00px;top:437.75px;font-size:10.5px;line-height:10.5px;color:#111;font-weight:normal;transform:scaleX(0.88);transform-origin:0 0;-webkit-text-stroke:0.35px #111;">ns</div>
<div class="t" style="left:225.24px;top:352.50px;font-size:9.0px;line-height:9.0px;color:#000;font-weight:bold;transform:scaleX(0.95);transform-origin:0 0;">N</div>
<div class="t" style="left:254.44px;top:352.50px;font-size:9.0px;line-height:9.0px;color:#000;font-weight:bold;transform:scaleX(0.95);transform-origin:0 0;">n</div>
<div class="t" style="left:225.15px;top:369.50px;font-size:10px;line-height:10px;color:#222;font-weight:normal;transform:scaleX(0.87);transform-origin:0 0;">176</div>
<div class="t" style="left:254.35px;top:369.50px;font-size:10px;line-height:10px;color:#222;font-weight:normal;transform:scaleX(0.87);transform-origin:0 0;">105</div>
<div class="t" style="left:225.37px;top:402.50px;font-size:10px;line-height:10px;color:#222;font-weight:normal;transform:scaleX(0.87);transform-origin:0 0;">215</div>
<div class="t" style="left:254.35px;top:402.50px;font-size:10px;line-height:10px;color:#222;font-weight:normal;transform:scaleX(0.87);transform-origin:0 0;">127</div>
<div class="t" style="left:225.37px;top:437.50px;font-size:10px;line-height:10px;color:#222;font-weight:normal;transform:scaleX(0.87);transform-origin:0 0;">219</div>
<div class="t" style="left:254.35px;top:437.50px;font-size:10px;line-height:10px;color:#222;font-weight:normal;transform:scaleX(0.87);transform-origin:0 0;">120</div>
<div style="left:367.00px;top:332.00px;width:306.00px;height:168.00px;border:1px solid #e0e0e0;box-sizing:border-box"></div>
<div class="t" style="left:374.78px;top:343.00px;font-size:14px;line-height:14px;color:#000;font-weight:normal;">F</div>
<div style="left:367.00px;top:360.50px;width:76.90px;height:1.00px;background:#d9d9d9"></div>
<div style="left:367.00px;top:458.70px;width:76.90px;height:1.00px;background:#d9d9d9"></div>
<div style="left:501.00px;top:361.00px;width:1.00px;height:98.20px;background:#ebebeb"></div>
<div style="left:477.80px;top:370.60px;width:23.50px;height:13.20px;background:#7030a0"></div>
<div style="left:501.30px;top:370.60px;width:0.90px;height:13.20px;background:#e4bcb0"></div>
<div style="left:502.20px;top:370.60px;width:72.50px;height:13.20px;background:#e36c09"></div>
<div style="left:476.80px;top:376.70px;width:1.00px;height:1.00px;background:#b0a0c4"></div>
<div style="left:476.20px;top:374.70px;width:1.20px;height:5.00px;background:#b0a0c4"></div>
<div style="left:477.80px;top:376.70px;width:1.00px;height:1.00px;background:rgba(90,90,90,0.35)"></div>
<div style="left:478.30px;top:374.70px;width:1.00px;height:5.00px;background:rgba(90,90,90,0.35)"></div>
<div style="left:574.70px;top:376.70px;width:3.50px;height:1.00px;background:#7f7f7f"></div>
<div style="left:577.60px;top:374.70px;width:1.20px;height:5.00px;background:#7f7f7f"></div>
<div style="left:571.20px;top:376.70px;width:3.50px;height:1.00px;background:rgba(90,90,90,0.35)"></div>
<div style="left:570.70px;top:374.70px;width:1.00px;height:5.00px;background:rgba(90,90,90,0.35)"></div>
<div style="left:486.30px;top:403.30px;width:15.00px;height:13.40px;background:#7030a0"></div>
<div style="left:501.30px;top:403.30px;width:0.90px;height:13.40px;background:#e4bcb0"></div>
<div style="left:502.20px;top:403.30px;width:80.80px;height:13.40px;background:#e36c09"></div>
<div style="left:485.30px;top:409.50px;width:1.00px;height:1.00px;background:#b0a0c4"></div>
<div style="left:484.70px;top:407.50px;width:1.20px;height:5.00px;background:#b0a0c4"></div>
<div style="left:486.30px;top:409.50px;width:1.00px;height:1.00px;background:rgba(90,90,90,0.35)"></div>
<div style="left:486.80px;top:407.50px;width:1.00px;height:5.00px;background:rgba(90,90,90,0.35)"></div>
<div style="left:583.00px;top:409.50px;width:4.20px;height:1.00px;background:#7f7f7f"></div>
<div style="left:586.60px;top:407.50px;width:1.20px;height:5.00px;background:#7f7f7f"></div>
<div style="left:578.80px;top:409.50px;width:4.20px;height:1.00px;background:rgba(90,90,90,0.35)"></div>
<div style="left:578.30px;top:407.50px;width:1.00px;height:5.00px;background:rgba(90,90,90,0.35)"></div>
<div style="left:463.30px;top:435.90px;width:38.00px;height:13.40px;background:#7030a0"></div>
<div style="left:501.30px;top:435.90px;width:0.90px;height:13.40px;background:#e4bcb0"></div>
<div style="left:502.20px;top:435.90px;width:58.00px;height:13.40px;background:#e36c09"></div>
<div style="left:461.80px;top:442.10px;width:1.50px;height:1.00px;background:#b0a0c4"></div>
<div style="left:461.20px;top:440.10px;width:1.20px;height:5.00px;background:#b0a0c4"></div>
<div style="left:463.30px;top:442.10px;width:1.50px;height:1.00px;background:rgba(90,90,90,0.35)"></div>
<div style="left:464.30px;top:440.10px;width:1.00px;height:5.00px;background:rgba(90,90,90,0.35)"></div>
<div style="left:560.20px;top:442.10px;width:2.20px;height:1.00px;background:#7f7f7f"></div>
<div style="left:561.80px;top:440.10px;width:1.20px;height:5.00px;background:#7f7f7f"></div>
<div style="left:558.00px;top:442.10px;width:2.20px;height:1.00px;background:rgba(90,90,90,0.35)"></div>
<div style="left:557.50px;top:440.10px;width:1.00px;height:5.00px;background:rgba(90,90,90,0.35)"></div>
<div style="left:443.40px;top:458.70px;width:154.60px;height:1.00px;background:#595959"></div>
<div style="left:443.40px;top:459.20px;width:1.00px;height:3.50px;background:#595959"></div>
<div class="t" style="left:243.90px;width:400px;text-align:center;top:467.00px;font-size:12px;line-height:12px;color:#000;font-weight:normal;">60</div>
<div style="left:462.60px;top:459.20px;width:1.00px;height:3.50px;background:#595959"></div>
<div class="t" style="left:263.10px;width:400px;text-align:center;top:467.00px;font-size:12px;line-height:12px;color:#000;font-weight:normal;">40</div>
<div style="left:481.80px;top:459.20px;width:1.00px;height:3.50px;background:#595959"></div>
<div class="t" style="left:282.30px;width:400px;text-align:center;top:467.00px;font-size:12px;line-height:12px;color:#000;font-weight:normal;">20</div>
<div style="left:501.00px;top:459.20px;width:1.00px;height:3.50px;background:#595959"></div>
<div class="t" style="left:301.50px;width:400px;text-align:center;top:467.00px;font-size:12px;line-height:12px;color:#000;font-weight:normal;">0</div>
<div style="left:520.20px;top:459.20px;width:1.00px;height:3.50px;background:#595959"></div>
<div class="t" style="left:320.70px;width:400px;text-align:center;top:467.00px;font-size:12px;line-height:12px;color:#000;font-weight:normal;">20</div>
<div style="left:539.40px;top:459.20px;width:1.00px;height:3.50px;background:#595959"></div>
<div class="t" style="left:339.90px;width:400px;text-align:center;top:467.00px;font-size:12px;line-height:12px;color:#000;font-weight:normal;">40</div>
<div style="left:558.60px;top:459.20px;width:1.00px;height:3.50px;background:#595959"></div>
<div class="t" style="left:359.10px;width:400px;text-align:center;top:467.00px;font-size:12px;line-height:12px;color:#000;font-weight:normal;">60</div>
<div style="left:577.80px;top:459.20px;width:1.00px;height:3.50px;background:#595959"></div>
<div class="t" style="left:378.30px;width:400px;text-align:center;top:467.00px;font-size:12px;line-height:12px;color:#000;font-weight:normal;">80</div>
<div style="left:597.00px;top:459.20px;width:1.00px;height:3.50px;background:#595959"></div>
<div class="t" style="left:397.50px;width:400px;text-align:center;top:467.00px;font-size:12px;line-height:12px;color:#000;font-weight:normal;">100</div>
<div class="t" style="left:472.29px;top:484.10px;font-size:11.8px;line-height:11.8px;color:#000;font-weight:normal;">% response of J2s</div>
<div style="left:444.80px;top:347.70px;width:6.40px;height:6.20px;background:#7030a0"></div>
<div class="t" style="left:453.67px;top:344.65px;font-size:11.7px;line-height:11.7px;color:#000;font-weight:normal;">Treatment</div>
<div style="left:511.70px;top:347.70px;width:6.30px;height:6.20px;background:#e36c09"></div>
<div class="t" style="left:520.30px;top:345.00px;font-size:12px;line-height:12px;color:#000;font-weight:normal;">Control</div>
<div class="t" style="right:240.88px;text-align:right;top:372.00px;font-size:12px;line-height:12px;color:#000;font-weight:normal;">80 ng/μl</div>
<div class="t" style="right:240.88px;text-align:right;top:405.00px;font-size:12px;line-height:12px;color:#000;font-weight:normal;">40 ng/μl</div>
<div class="t" style="right:240.88px;text-align:right;top:438.00px;font-size:12px;line-height:12px;color:#000;font-weight:normal;">20 ng/μl</div>
<div class="t" style="left:446.45px;top:371.50px;font-size:10px;line-height:10px;color:#222;font-weight:normal;">ns</div>
<div style="left:453.50px;top:408.70px;width:3.20px;height:3.20px;border-radius:50%;background:#111"></div>
<svg style="position:absolute;left:446.90px;top:438.00px;overflow:visible" width="4.8" height="6.8" viewBox="0 0 4.8 6.8"><g stroke="#111" fill="none"><path d="M1.6 0 L1.1 6.8" stroke-width="1.15"/><path d="M3.8 0 L3.3 6.8" stroke-width="1.15"/><path d="M0.2 2.3 H4.8" stroke-width="0.9"/><path d="M0 4.6 H4.6" stroke-width="0.9"/></g></svg>
<div class="t" style="left:596.32px;top:358.75px;font-size:9.5px;line-height:9.5px;color:#000;font-weight:bold;transform:scaleX(1.1);transform-origin:0 0;">N</div>
<div class="t" style="left:629.02px;top:358.75px;font-size:9.5px;line-height:9.5px;color:#000;font-weight:bold;transform:scaleX(1.1);transform-origin:0 0;">n</div>
<div class="t" style="left:596.47px;top:375.50px;font-size:10px;line-height:10px;color:#222;font-weight:normal;transform:scaleX(1.06);transform-origin:0 0;">64</div>
<div class="t" style="left:628.91px;top:375.50px;font-size:10px;line-height:10px;color:#222;font-weight:normal;transform:scaleX(1.06);transform-origin:0 0;">16</div>
<div class="t" style="left:596.47px;top:408.50px;font-size:10px;line-height:10px;color:#222;font-weight:normal;transform:scaleX(1.06);transform-origin:0 0;">248</div>
<div class="t" style="left:629.49px;top:408.50px;font-size:10px;line-height:10px;color:#222;font-weight:normal;transform:scaleX(1.06);transform-origin:0 0;">40</div>
<div class="t" style="left:596.21px;top:440.50px;font-size:10px;line-height:10px;color:#222;font-weight:normal;transform:scaleX(1.06);transform-origin:0 0;">146</div>
<div class="t" style="left:629.28px;top:440.50px;font-size:10px;line-height:10px;color:#222;font-weight:normal;transform:scaleX(1.06);transform-origin:0 0;">59</div>
</div>
<div class="r" style="left:-89.30px;top:68.00px;width:200px;height:14px;font-size:11.7px;line-height:14px;text-align:center;transform:rotate(-90deg);color:#1a1a1a;">α-Pinene</div>
<div class="r" style="left:274.30px;top:67.00px;width:200px;height:14px;font-size:12px;line-height:14px;text-align:center;transform:rotate(-90deg);color:#1a1a1a;">Limonene</div>
<div class="r" style="left:-78.00px;top:220.80px;width:200px;height:39px;font-size:10.7px;line-height:13px;text-align:center;transform:rotate(-90deg);color:#1a1a1a;">2-Methoxy-3-(1-<br>methylpropyl)-<br>pyrazine</div>
<div class="r" style="left:273.10px;top:227.70px;width:200px;height:14px;font-size:11.9px;line-height:14px;text-align:center;transform:rotate(-90deg);color:#1a1a1a;">Methyl Salicylate</div>
<div class="r" style="left:-88.80px;top:402.10px;width:200px;height:14px;font-size:11.35px;line-height:14px;text-align:center;transform:rotate(-90deg);color:#1a1a1a;">Tridecane</div>
<div class="r" style="left:273.50px;top:402.90px;width:200px;height:14px;font-size:11.7px;line-height:14px;text-align:center;transform:rotate(-90deg);color:#1a1a1a;">Thymol</div>
</body></html>
